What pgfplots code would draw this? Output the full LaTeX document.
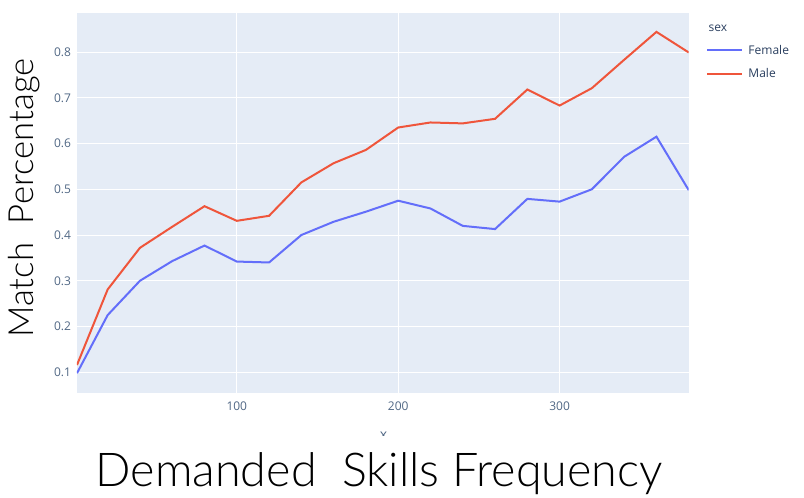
\documentclass[border=0pt]{standalone}
\usepackage{pgfplots}
\pgfplotsset{compat=1.18}
\usepackage{fontspec}
\setmainfont{Open Sans}
\newfontfamily\bigfont{Lato}[UprightFont=* Light]
\definecolor{bgc}{HTML}{E5ECF6}
\definecolor{fem}{HTML}{636EFA}
\definecolor{mal}{HTML}{EF553B}
\definecolor{tickc}{HTML}{506784}
\definecolor{txtc}{HTML}{2A3F5F}
\pgfplotstableread{
x female male
1 0.098 0.116
20 0.225 0.281
40 0.300 0.372
60 0.343 0.418
80 0.377 0.463
100 0.342 0.431
120 0.340 0.442
140 0.400 0.515
160 0.429 0.557
180 0.451 0.586
200 0.475 0.635
220 0.458 0.646
240 0.420 0.644
260 0.413 0.654
280 0.479 0.718
300 0.473 0.683
320 0.500 0.721
340 0.571 0.783
360 0.615 0.844
380 0.498 0.799
}\data
\begin{document}
\begin{tikzpicture}
\useasboundingbox (-57.75pt,-78.5pt) rectangle (545.25pt,295pt);
\begin{axis}[
  at={(0,0)}, anchor=south west,
  scale only axis, width=458.8pt, height=285.5pt,
  xmin=1, xmax=380, ymin=0.054, ymax=0.886,
  axis background/.style={fill=bgc},
  axis line style={draw=none},
  major tick length=0pt,
  grid=major, major grid style={white, line width=0.75pt},
  xtick={100,200,300}, ytick={0.1,0.2,0.3,0.4,0.5,0.6,0.7,0.8},
  yticklabel style={/pgf/number format/fixed, /pgf/number format/precision=1, /pgf/number format/fixed zerofill},
  /pgf/number format/assume math mode=true,
  tick label style={font=\fontsize{9}{10}\selectfont, text=tickc},
  xticklabel style={yshift=-3pt},
  yticklabel style={xshift=-1pt},
  legend style={draw=none, fill=none, at={(rel axis cs:1.022,0.93)}, anchor=north west,
    font=\fontsize{9}{10}\selectfont, text=txtc, row sep=5.25pt,
    /tikz/every odd column/.append style={column sep=2pt}},
  legend cell align=left,
  legend image code/.code={\draw[#1] (0pt,0pt) -- (26pt,0pt);},
  clip mode=individual,
]
\addplot[fem, line width=1.5pt] table[x=x, y=female] {\data};
\addlegendentry{Female}
\addplot[mal, line width=1.5pt] table[x=x, y=male] {\data};
\addlegendentry{Male}
\node[anchor=west, font=\fontsize{9}{10}\selectfont, text=txtc] at (rel axis cs:1.025,0.96) {sex};
\node[font=\fontsize{10.5}{12}\selectfont, text=tickc] at (rel axis cs:0.501,-0.112) {x};
\node[anchor=base, fill=white, inner xsep=1pt, inner ysep=0pt, text height=38pt, font=\bigfont\fontsize{35}{40}\selectfont] at (rel axis cs:0.494,-0.246) {Demanded\ \ Skills Frequency};
\node[anchor=base, rotate=90, font=\bigfont\fontsize{26}{30}\selectfont] at (rel axis cs:-0.0719,0.513) {Match\ \ Percentage};
\end{axis}
\end{tikzpicture}
\end{document}
